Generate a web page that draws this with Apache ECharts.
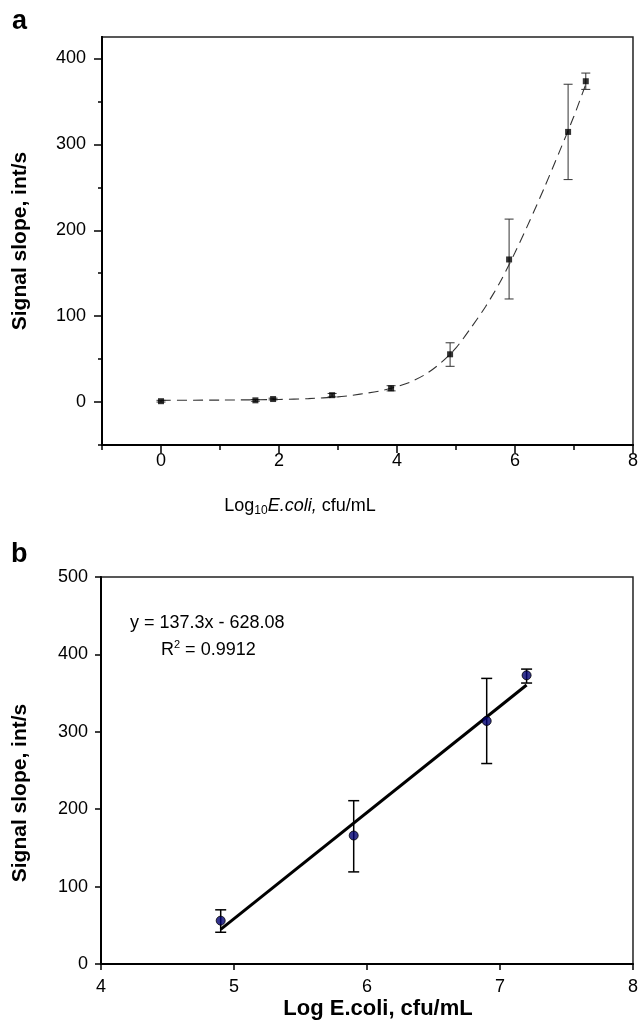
<!DOCTYPE html>
<html><head><meta charset="utf-8">
<script src="https://cdn.jsdelivr.net/npm/echarts@6/dist/echarts.min.js"></script>
<style>html,body{margin:0;padding:0;background:#fff}#c{width:641px;height:1030px}</style>
</head><body><div id="c"></div>
<script>
// Panel a data
const aX  = [0, 1.6, 1.9, 2.9, 3.9, 4.9, 5.9, 6.9, 7.2];
const aY  = [1, 2, 3.5, 8, 16, 55.6, 166, 314.5, 373.5];
const aLo = [0, 1, 2.5, 6, 13, 41.6, 120, 259, 364];
const aHi = [2, 3, 4.5, 10, 19, 69, 213, 370, 383];
// fitted (dashed) curve
const fitX = [0, 1, 2, 2.5, 3, 3.25, 3.5, 3.75, 4, 4.25, 4.5, 4.75, 5, 5.25, 5.5, 5.75, 6, 6.25, 6.5, 6.75, 7, 7.2];
const fitY = [2, 2.3, 3, 4, 6, 8, 10.5, 13.5, 18, 24, 33, 46, 63, 86, 111, 140, 174, 211, 250, 291, 333, 370];
// Panel b data
const bX  = [4.9, 5.9, 6.9, 7.2];
const bY  = [56, 166, 314, 373];
const bLo = [41, 119, 259, 363];
const bHi = [70, 211, 369, 381];
// regression line endpoints (y = 137.3x - 628.08)
const regX = [4.9, 7.2];
const regY = [44.7, 360.5];
// ticks
const aXMajor = [0, 2, 4, 6, 8];
const aXMinor = [-1, 1, 3, 5, 7];
const aYMajor = [0, 100, 200, 300, 400];
const aYMinor = [-50, 50, 150, 250, 350];
const bXTicks = [4, 5, 6, 7, 8];
const bYTicks = [0, 100, 200, 300, 400, 500];

const FONT = '"Liberation Sans", Arial, Helvetica, sans-serif';
const zip = (xs, ys) => xs.map((x, i) => [x, ys[i]]);
const zip3 = (xs, a, b) => xs.map((x, i) => [x, a[i], b[i]]);

function errRender(cap, color, lw) {
  return function (params, api) {
    const x = api.value(0);
    const p1 = api.coord([x, api.value(1)]);
    const p2 = api.coord([x, api.value(2)]);
    const st = { stroke: color, lineWidth: lw };
    return { type: 'group', children: [
      { type: 'line', shape: { x1: p1[0], y1: p1[1], x2: p2[0], y2: p2[1] }, style: st },
      { type: 'line', shape: { x1: p1[0] - cap, y1: p1[1], x2: p1[0] + cap, y2: p1[1] }, style: st },
      { type: 'line', shape: { x1: p2[0] - cap, y1: p2[1], x2: p2[0] + cap, y2: p2[1] }, style: st }
    ]};
  };
}

const axLine = { show: true, onZero: false, lineStyle: { color: '#000', width: 2 } };
const lbl = (m) => ({ color: '#000', fontSize: 18, fontFamily: FONT, margin: m });

const chart = echarts.init(document.getElementById('c'), null, { renderer: 'canvas' });
chart.setOption({
  animation: false,
  backgroundColor: '#fff',
  grid: [
    { left: 102, top: 37, right: 6, bottom: 585, show: true, borderColor: '#222', borderWidth: 1.5, containLabel: false },
    { left: 101, top: 577, right: 8, bottom: 66, show: true, borderColor: '#222', borderWidth: 1.5, containLabel: false }
  ],
  xAxis: [
    { gridIndex: 0, type: 'value', position: 'bottom', min: -1, max: 8, axisLine: axLine,
      axisTick: { show: true, inside: false, length: 8, customValues: aXMajor, lineStyle: { color: '#000', width: 1.5 } },
      axisLabel: Object.assign(lbl(7), { customValues: aXMajor }), splitLine: { show: false } },
    { gridIndex: 0, type: 'value', position: 'bottom', min: -1, max: 8, axisLine: axLine,
      axisTick: { show: true, inside: false, length: 5, customValues: aXMinor, lineStyle: { color: '#000', width: 1.5 } },
      axisLabel: { show: false }, splitLine: { show: false } },
    { gridIndex: 1, type: 'value', position: 'bottom', min: 4, max: 8, axisLine: axLine,
      axisTick: { show: true, inside: false, length: 6, customValues: bXTicks, lineStyle: { color: '#000', width: 1.5 } },
      axisLabel: Object.assign(lbl(14), { customValues: bXTicks }), splitLine: { show: false } }
  ],
  yAxis: [
    { gridIndex: 0, type: 'value', position: 'left', min: -50, max: 425, axisLine: axLine,
      axisTick: { show: true, inside: false, length: 8, customValues: aYMajor, lineStyle: { color: '#000', width: 1.5 } },
      axisLabel: Object.assign(lbl(16), { customValues: aYMajor }), splitLine: { show: false } },
    { gridIndex: 0, type: 'value', position: 'left', min: -50, max: 425, axisLine: axLine,
      axisTick: { show: true, inside: false, length: 4, customValues: aYMinor, lineStyle: { color: '#000', width: 1.5 } },
      axisLabel: { show: false }, splitLine: { show: false } },
    { gridIndex: 1, type: 'value', position: 'left', min: 0, max: 500, axisLine: axLine,
      axisTick: { show: true, inside: false, length: 6, customValues: bYTicks, lineStyle: { color: '#000', width: 1.5 } },
      axisLabel: Object.assign(lbl(13), { customValues: bYTicks }), splitLine: { show: false } }
  ],
  series: [
    { type: 'line', xAxisIndex: 0, yAxisIndex: 0, data: zip(fitX, fitY), smooth: 0.25,
      showSymbol: false, symbol: 'none', lineStyle: { color: '#333', width: 1.1, type: [10, 6] }, z: 2 },
    { type: 'custom', xAxisIndex: 0, yAxisIndex: 0, data: zip3(aX, aLo, aHi), renderItem: errRender(4.5, '#333', 1),
      encode: { x: 0, y: [1, 2] }, z: 3 },
    { type: 'scatter', xAxisIndex: 0, yAxisIndex: 0, data: zip(aX, aY), symbol: 'rect', symbolSize: 6,
      itemStyle: { color: '#000' }, z: 4 },
    { type: 'line', xAxisIndex: 2, yAxisIndex: 2, data: zip(regX, regY), showSymbol: false, symbol: 'none',
      lineStyle: { color: '#000', width: 3 }, z: 2 },
    { type: 'custom', xAxisIndex: 2, yAxisIndex: 2, data: zip3(bX, bLo, bHi), renderItem: errRender(5.5, '#000', 1.5),
      encode: { x: 0, y: [1, 2] }, z: 3 },
    { type: 'scatter', xAxisIndex: 2, yAxisIndex: 2, data: zip(bX, bY), symbol: 'circle', symbolSize: 9,
      itemStyle: { color: '#000070', borderColor: '#000', borderWidth: 1 }, z: 4 }
  ],
  graphic: [
    { type: 'text', left: 12, top: 8, style: { text: 'a', font: 'bold 27px ' + FONT, fill: '#000' } },
    { type: 'text', left: 11, top: 541, style: { text: 'b', font: 'bold 27px ' + FONT, fill: '#000' } },
    { type: 'text', x: 20, y: 241, rotation: Math.PI / 2,
      style: { text: 'Signal slope, int/s', font: 'bold 21px ' + FONT, fill: '#000', align: 'center', verticalAlign: 'middle' } },
    { type: 'text', x: 20, y: 793, rotation: Math.PI / 2,
      style: { text: 'Signal slope, int/s', font: 'bold 21px ' + FONT, fill: '#000', align: 'center', verticalAlign: 'middle' } },
    { type: 'text', x: 300, y: 506,
      style: { text: '{n|Log}{s|10}{i|E.coli,}{n| cfu/mL}', align: 'center', verticalAlign: 'middle',
        rich: {
          n: { fontSize: 18, fontFamily: FONT, fill: '#000', lineHeight: 22, verticalAlign: 'middle' },
          i: { fontSize: 18, fontFamily: FONT, fontStyle: 'italic', fill: '#000', lineHeight: 22, verticalAlign: 'middle' },
          s: { fontSize: 12, fontFamily: FONT, fill: '#000', lineHeight: 12, verticalAlign: 'bottom' }
        } } },
    { type: 'text', x: 378, y: 1009,
      style: { text: 'Log E.coli, cfu/mL', font: 'bold 22px ' + FONT, fill: '#000', align: 'center', verticalAlign: 'middle' } },
    { type: 'text', x: 130, y: 623,
      style: { text: 'y = 137.3x - 628.08', font: '18px ' + FONT, fill: '#000', align: 'left', verticalAlign: 'middle' } },
    { type: 'text', x: 161, y: 650,
      style: { text: '{n|R}{p|2}{n| = 0.9912}', align: 'left', verticalAlign: 'middle',
        rich: {
          n: { fontSize: 18, fontFamily: FONT, fill: '#000', lineHeight: 22, verticalAlign: 'middle' },
          p: { fontSize: 11, fontFamily: FONT, fill: '#000', lineHeight: 11, verticalAlign: 'top' }
        } } }
  ]
});
</script>
</body></html>
